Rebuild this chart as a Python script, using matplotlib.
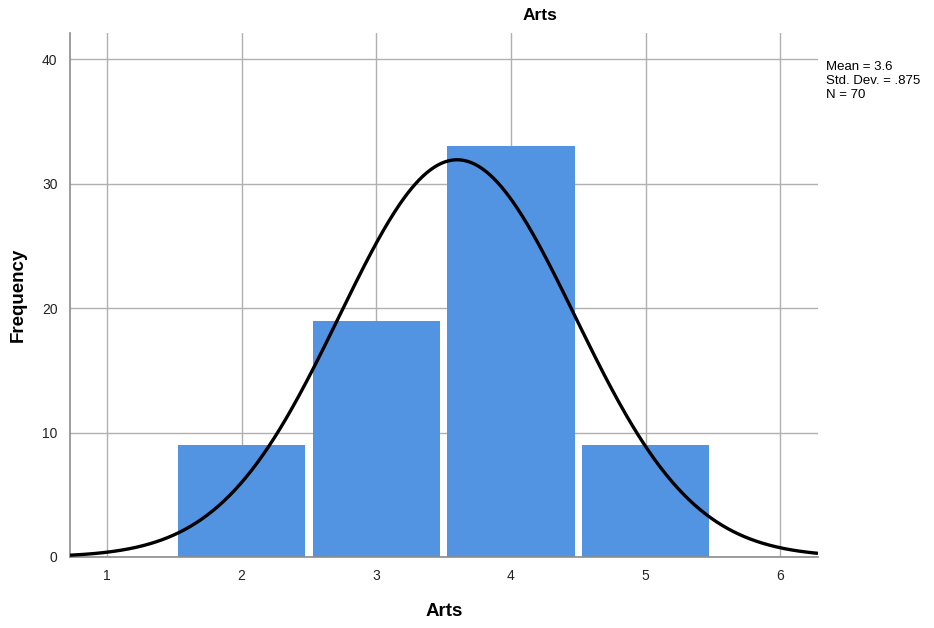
import numpy as np
import matplotlib
matplotlib.use("Agg")
import matplotlib.pyplot as plt

plt.rcParams['font.family'] = ['Liberation Sans', 'DejaVu Sans']

# Arts scores and their counts
scores = [2, 3, 4, 5]
counts = [9, 19, 33, 9]
mean_val = 3.6
std_val = 0.875
n_total = 70

fig = plt.figure(figsize=(9.34, 6.28), dpi=100)
ax = fig.add_axes([70 / 934, 1 - 557 / 628, (818 - 70) / 934, (557 - 33) / 628])

ax.bar(scores, counts, width=0.945, color='#5294e2', zorder=2)

# normal curve fitted from the summary statistics (bin width 1)
xs = np.linspace(0.725, 6.28, 400)
ys = n_total * 1.0 / (std_val * np.sqrt(2 * np.pi)) * np.exp(-0.5 * ((xs - mean_val) / std_val) ** 2)
ax.plot(xs, ys, color='black', lw=2.4, zorder=3, solid_capstyle='butt')

ax.set_xlim(0.725, 6.28)
ax.set_ylim(0, 42.1)
ax.set_xticks([1, 2, 3, 4, 5, 6])
ax.set_yticks([0, 10, 20, 30, 40])
ax.grid(True, color='#b0b0b0', lw=1.0, zorder=0)
ax.set_axisbelow(True)
for s in ['top', 'right']:
    ax.spines[s].set_visible(False)
for s in ['left', 'bottom']:
    ax.spines[s].set_color('#8c8c8c')
    ax.spines[s].set_linewidth(1.2)
ax.tick_params(axis='both', length=0, labelsize=10, colors='#222222', pad=9)

ax.set_xlabel('Arts', fontsize=13.5, fontweight='bold', labelpad=14)
ax.set_ylabel('Frequency', fontsize=13.5, fontweight='bold', labelpad=11)
fig.text(540 / 934, 1 - 15 / 628, 'Arts', fontsize=12.5, fontweight='bold', ha='center', va='center')
fig.text(826 / 934, 1 - 61 / 628, 'Mean = 3.6\nStd. Dev. = .875\nN = 70',
         fontsize=9.5, ha='left', va='top', linespacing=1.25)

fig.savefig('out.png', dpi=100)
